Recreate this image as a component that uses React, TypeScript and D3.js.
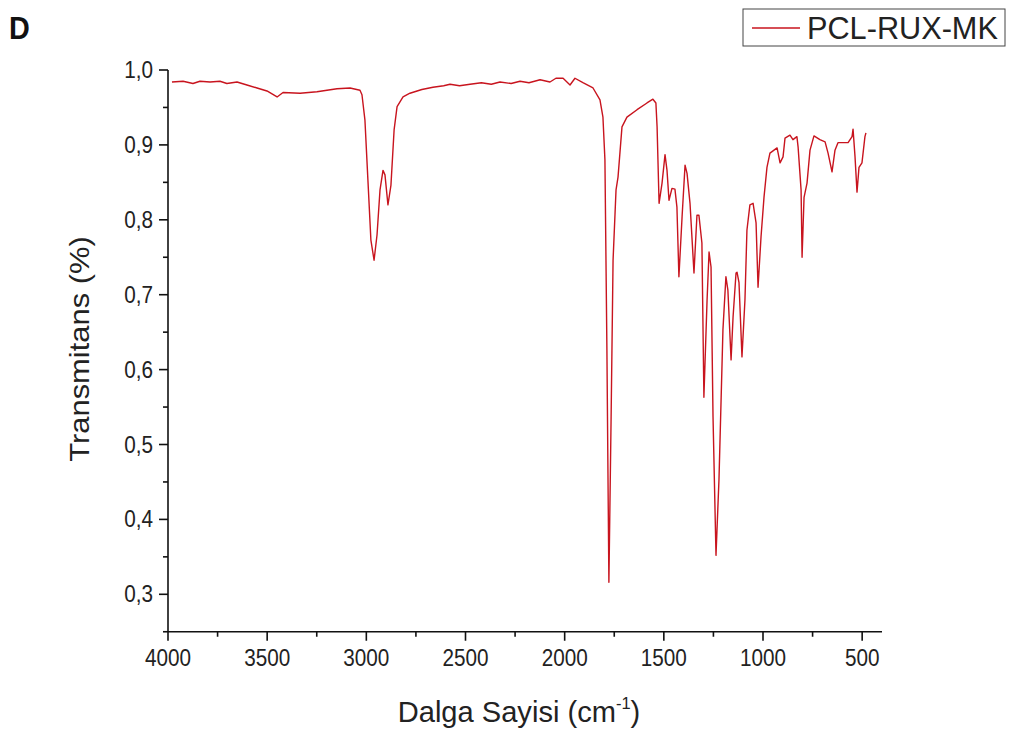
import React from "react";
import * as d3 from "d3";

const wavenumber = [
  3980, 3924, 3874, 3839, 3788, 3738, 3703, 3652, 3602, 3551, 3501, 3450, 3420, 3334, 3249, 3148, 3082, 3032,
  3022, 3007, 2992, 2977, 2961, 2946, 2931, 2916, 2906,
  2891, 2876, 2860, 2845, 2815, 2780, 2720, 2664, 2610, 2578, 2530, 2477, 2420, 2370, 2326, 2270, 2225, 2180, 2124, 2074, 2044, 2008, 1973, 1948, 1908, 1857, 1822,
  1807, 1797, 1787, 1777, 1766, 1756, 1741, 1731, 1711, 1686, 1635, 1585, 1555, 1540, 1534, 1524, 1509, 1494, 1484, 1474,
  1459, 1444, 1434, 1424, 1408, 1393, 1383, 1368, 1348, 1333, 1323, 1308, 1298, 1282, 1272, 1262, 1252, 1237, 1222, 1202,
  1187, 1177, 1161, 1151, 1136, 1131, 1121, 1106, 1091, 1081, 1066, 1050, 1035, 1025, 1010, 995, 980, 965, 929, 914,
  899, 889, 864, 849, 829, 823, 808, 803, 793, 778, 763, 743, 713, 687, 672, 652, 637, 622, 597, 571,
  551, 546, 536, 526, 516, 501, 486, 481,
];
const transmittance = [
  0.984, 0.985, 0.982, 0.985, 0.984, 0.985, 0.982, 0.984, 0.98, 0.976, 0.972, 0.964, 0.97, 0.969, 0.971, 0.975, 0.976, 0.973,
  0.967, 0.933, 0.853, 0.773, 0.746, 0.78, 0.84, 0.866, 0.86,
  0.82, 0.846, 0.92, 0.951, 0.964, 0.969, 0.974, 0.977, 0.979, 0.981, 0.979, 0.981, 0.983, 0.981, 0.984, 0.982, 0.985, 0.983, 0.987, 0.984, 0.989, 0.989, 0.98, 0.989, 0.983, 0.976, 0.96,
  0.937, 0.88, 0.626, 0.316, 0.533, 0.746, 0.84, 0.857, 0.924, 0.937, 0.947, 0.956, 0.961, 0.956, 0.924, 0.822, 0.849, 0.887, 0.866, 0.826,
  0.842, 0.841, 0.817, 0.724, 0.804, 0.873, 0.862, 0.822, 0.729, 0.806, 0.806, 0.769, 0.563, 0.693, 0.757, 0.737, 0.537, 0.352, 0.453, 0.653,
  0.724, 0.706, 0.613, 0.67, 0.729, 0.73, 0.716, 0.617, 0.693, 0.786, 0.82, 0.822, 0.796, 0.71, 0.777, 0.83, 0.87, 0.889, 0.896, 0.876,
  0.884, 0.909, 0.913, 0.907, 0.911, 0.897, 0.84, 0.75, 0.83, 0.849, 0.893, 0.912, 0.907, 0.904, 0.889, 0.864, 0.893, 0.903, 0.903, 0.903,
  0.911, 0.921, 0.884, 0.837, 0.87, 0.876, 0.911, 0.916,
];

const xMajorTicks = [4000, 3500, 3000, 2500, 2000, 1500, 1000, 500];
const xMinorTicks = [3750, 3250, 2750, 2250, 1750, 1250, 750];
const yMajorTicks = [1.0, 0.9, 0.8, 0.7, 0.6, 0.5, 0.4, 0.3];
const yMinorTicks = [0.95, 0.85, 0.75, 0.65, 0.55, 0.45, 0.35, 0.25];

const seriesName = "PCL-RUX-MK";
const panelLabel = "D";
const xTitle = "Dalga Sayisi (cm";
const yTitle = "Transmitans (%)";

const FONT = "Arial, 'Liberation Sans', sans-serif";
const LINE = "#c8141e";
const SQ = 0.9;

export default function App() {
  const x = d3.scaleLinear().domain([4000, 400]).range([168, 882]);
  const y = d3.scaleLinear().domain([0.25, 1.0]).range([631.75, 70]);
  const data = wavenumber.map((w, i) => [w, transmittance[i]] as [number, number]);
  const line = d3
    .line<[number, number]>()
    .x((d) => x(d[0]))
    .y((d) => y(d[1]));
  const fmt = (v: number) => d3.format(".1f")(v).replace(".", ",");
  const x0 = x(4000);
  const yBase = y(0.25);

  return (
    <svg
      width={1013}
      height={731}
      style={{ position: "absolute", left: 0, top: 0, background: "#fff" }}
      fontFamily={FONT}
    >
      <rect width={1013} height={731} fill="#fff" />
      <text transform={`translate(9,39) scale(${SQ},1)`} fontSize={32} fontWeight="bold" fill="#111">
        {panelLabel}
      </text>

      {/* axes */}
      <line x1={x0} x2={x0} y1={y(1.0)} y2={yBase} stroke="#111" strokeWidth={1.6} />
      <line x1={x0} x2={x(400)} y1={yBase} y2={yBase} stroke="#111" strokeWidth={1.6} />
      {xMajorTicks.map((t) => (
        <g key={"xM" + t}>
          <line x1={x(t)} x2={x(t)} y1={yBase} y2={yBase + 9} stroke="#111" strokeWidth={1.6} />
          <text
            transform={`translate(${x(t)},${yBase + 34}) scale(${SQ},1)`}
            fontSize={23}
            textAnchor="middle"
            fill="#222"
          >
            {t}
          </text>
        </g>
      ))}
      {xMinorTicks.map((t) => (
        <line key={"xm" + t} x1={x(t)} x2={x(t)} y1={yBase} y2={yBase + 5} stroke="#111" strokeWidth={1.6} />
      ))}
      {yMajorTicks.map((t) => (
        <g key={"yM" + t}>
          <line x1={x0 - 9} x2={x0} y1={y(t)} y2={y(t)} stroke="#111" strokeWidth={1.6} />
          <text
            transform={`translate(${x0 - 15},${y(t) + 8}) scale(${SQ},1)`}
            fontSize={23}
            textAnchor="end"
            fill="#222"
          >
            {fmt(t)}
          </text>
        </g>
      ))}
      {yMinorTicks.map((t) => (
        <line key={"ym" + t} x1={x0 - 5} x2={x0} y1={y(t)} y2={y(t)} stroke="#111" strokeWidth={1.6} />
      ))}

      {/* titles */}
      <text transform={`translate(519,722) scale(0.97,1)`} fontSize={30} textAnchor="middle" fill="#222">
        {xTitle}
        <tspan fontSize={17} dy={-13}>
          -1
        </tspan>
        <tspan dy={13}>)</tspan>
      </text>
      <text
        transform={`translate(89, 349) rotate(-90) scale(1.03,${SQ})`}
        fontSize={30}
        textAnchor="middle"
        fill="#222"
      >
        {yTitle}
      </text>

      {/* spectrum */}
      <path d={line(data) || ""} fill="none" stroke={LINE} strokeWidth={1.4} strokeLinejoin="round" />

      {/* legend */}
      <rect x={743} y={9} width={262} height={37} fill="#fff" stroke="#444" strokeWidth={1} />
      <line x1={752} x2={800} y1={28} y2={28} stroke={LINE} strokeWidth={1.4} />
      <text transform={`translate(807,39) scale(0.99,1)`} fontSize={31} fill="#222">
        {seriesName}
      </text>
    </svg>
  );
}
